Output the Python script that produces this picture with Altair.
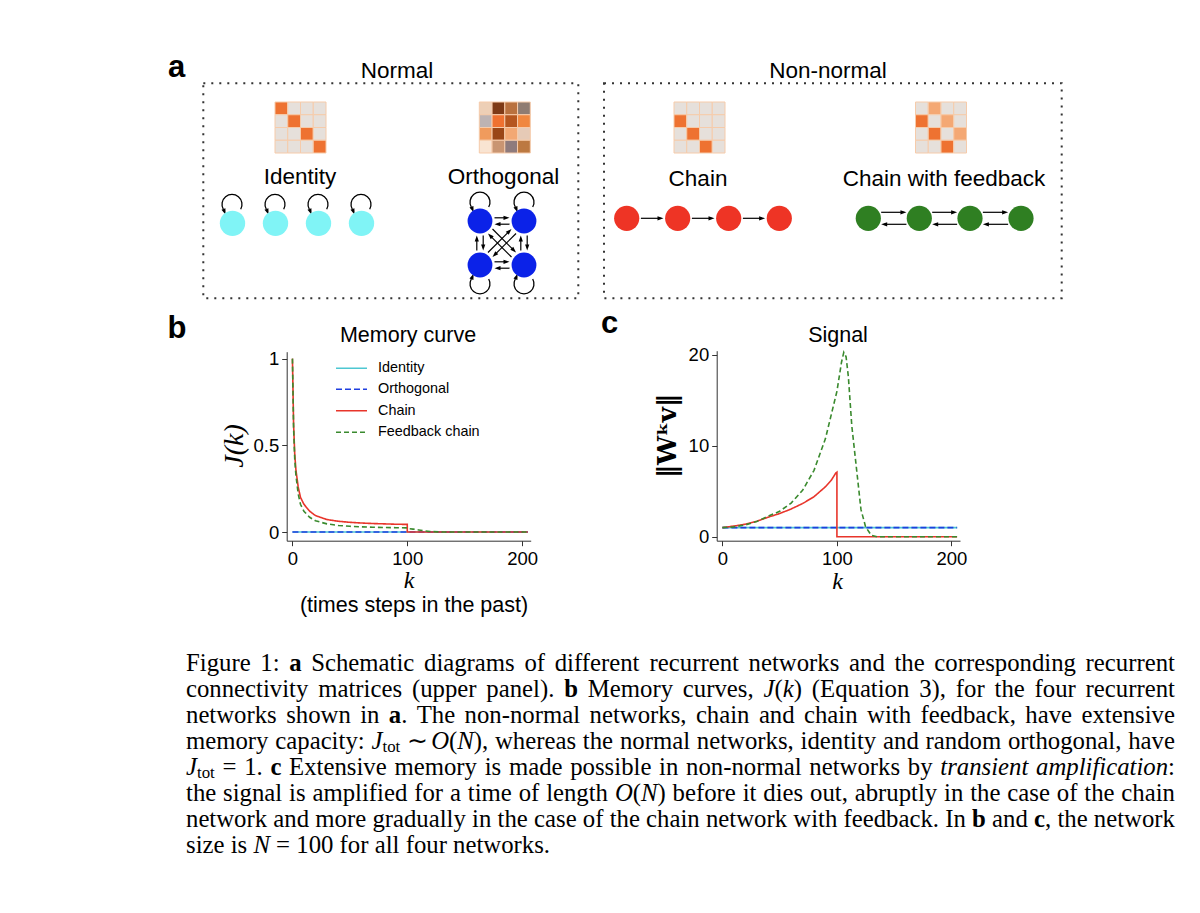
import math
import re
import altair as alt
import pandas as pd

# ------------------------------------------------------------------ data
series_names = ["Identity", "Orthogonal", "Chain", "Feedback chain"]
series_colors = ["#4ec7d2", "#1f3fe0", "#e8352b", "#3a8a2e"]
series_dash = [[1, 0], [6, 3], [1, 0], [5, 3]]

# panel b : memory curve J(k)
b_identity_k = [0, 205]
b_identity_J = [0.0, 0.0]
b_orth_k = [0, 205]
b_orth_J = [0.0, 0.0]
b_chain_k = [0, 1, 2, 3, 5, 7, 10, 15, 20, 30, 40, 50, 60, 70, 80, 90, 99, 100, 100, 205]
b_chain_J = [1.0, 0.62, 0.45, 0.36, 0.26, 0.2, 0.16, 0.12, 0.095, 0.072, 0.062, 0.056,
             0.052, 0.049, 0.047, 0.045, 0.044, 0.044, 0.0, 0.0]
b_fb_k = [0, 1, 2, 3, 5, 7, 10, 15, 20, 30, 40, 50, 60, 70, 80, 90, 100, 101, 105, 110,
          115, 120, 130, 205]
b_fb_J = [1.0, 0.6, 0.42, 0.33, 0.22, 0.16, 0.12, 0.085, 0.065, 0.047, 0.038, 0.033, 0.03,
          0.028, 0.026, 0.025, 0.024, 0.02, 0.017, 0.012, 0.007, 0.003, 0.0, 0.0]

# panel c : signal ||W^k v||
c_identity_k = [0, 205]
c_identity_v = [1.0, 1.0]
c_orth_k = [0, 205]
c_orth_v = [1.0, 1.0]
c_chain_k = [0, 10, 20, 30, 40, 50, 60, 70, 80, 90, 95, 99, 100, 100, 205]
c_chain_v = [1.0, 1.17, 1.38, 1.7, 2.15, 2.55, 3.05, 3.65, 4.4, 5.5, 6.2, 7.0, 7.1, 0.0, 0.0]
c_fb_k = [0, 10, 20, 30, 39, 50, 60, 70, 80, 90, 100, 104, 106, 108, 110, 113, 117, 121,
          125, 130, 135, 205]
c_fb_v = [1.0, 1.08, 1.3, 1.68, 2.2, 2.8, 3.7, 5.1, 7.3, 10.8, 16.0, 19.2, 20.3, 19.8, 17.6,
          12.2, 7.6, 3.0, 1.1, 0.15, 0.0, 0.0]

b_ticks_x = [0, 100, 200]
b_ticks_y = [0, 0.5, 1]
c_ticks_x = [0, 100, 200]
c_ticks_y = [0, 10, 20]

# connectivity matrices (cell colours)
BG, OR, LO = "#e6e0db", "#ee7231", "#f4a874"
mat_identity = [[OR, BG, BG, BG], [BG, OR, BG, BG], [BG, BG, OR, BG], [BG, BG, BG, OR]]
mat_orth = [["#edcfb6", "#7e3a16", "#b9713f", "#8f7c72"],
            ["#bdb3b3", "#ef7130", "#b5561f", "#f0873f"],
            ["#f09b5d", "#9a4617", "#f2a874", "#e6cab6"],
            ["#f9e4d2", "#c99572", "#8e7b7d", "#bc7941"]]
mat_chain = [[BG, BG, BG, BG], [OR, BG, BG, BG], [BG, OR, BG, BG], [BG, BG, OR, BG]]
mat_fb = [[BG, LO, BG, BG], [OR, BG, LO, BG], [BG, OR, BG, LO], [BG, BG, OR, BG]]

network_names = ["Identity", "Orthogonal", "Chain", "Chain with feedback"]
node_colors = ["#80f4f6", "#0b22e8", "#ee3425", "#2f7f22"]

caption_lines = [
    "Figure 1: **a** Schematic diagrams of different recurrent networks and the corresponding recurrent",
    "connectivity matrices (upper panel). **b** Memory curves, *J*(*k*) (Equation 3), for the four recurrent",
    "networks shown in **a**. The non-normal networks, chain and chain with feedback, have extensive",
    "memory capacity: *J*_{tot} \u223c *O*(*N*), whereas the normal networks, identity and random orthogonal, have",
    "*J*_{tot} = 1. **c** Extensive memory is made possible in non-normal networks by *transient amplification*:",
    "the signal is amplified for a time of length *O*(*N*) before it dies out, abruptly in the case of the chain",
    "network and more gradually in the case of the chain network with feedback. In **b** and **c**, the network",
    "size is *N* = 100 for all four networks.",
]

# ------------------------------------------------------------------ layout
W, H = 1184, 897
OFF = 8
SANS = "Liberation Sans"
SERIF = "Liberation Serif"

XS = alt.Scale(domain=[OFF, OFF + W], range=[0, W], nice=False, zero=False)
YS = alt.Scale(domain=[OFF, OFF + H], range=[0, H], nice=False, zero=False)


def X(f):
    return alt.X(f"{f}:Q", scale=XS, axis=None)


def Y(f):
    return alt.Y(f"{f}:Q", scale=YS, axis=None)


color_enc = alt.Color("series:N", scale=alt.Scale(domain=series_names, range=series_colors), legend=None)
dash_enc = alt.StrokeDash("series:N", scale=alt.Scale(domain=series_names, range=series_dash), legend=None)

# ---- dotted boxes
boxes = pd.DataFrame({"x": [203.3, 604], "x2": [578.3, 1061.7], "y": [83.3, 83.3], "y2": [298.3, 298.3]})
box_layer = alt.Chart(boxes).mark_rect(fillOpacity=0, stroke="#333", strokeWidth=2,
                                       strokeDash=[2, 6]).encode(
    x=X("x"), x2="x2:Q", y=Y("y"), y2="y2:Q")

# ---- matrices
mat_origin = [(275.0, 102.0), (479.3, 102.0), (674.0, 102.0), (915.5, 102.0)]
MSIZE = 51.0
cells = []
for (ox, oy), mat in zip(mat_origin, [mat_identity, mat_orth, mat_chain, mat_fb]):
    c = MSIZE / 4
    for r in range(4):
        for col in range(4):
            cells.append({"x": ox + col * c, "x2": ox + (col + 1) * c, "y": oy + r * c,
                          "y2": oy + (r + 1) * c, "fill": mat[r][col]})
cells = pd.DataFrame(cells)
cell_layer = alt.Chart(cells).mark_rect(stroke="#f6cbaa", strokeWidth=1).encode(
    x=X("x"), x2="x2:Q", y=Y("y"), y2="y2:Q", fill=alt.Fill("fill:N", scale=None))

# ---- nodes
node_pos = {
    "Identity": ([232.5, 275.5, 318.5, 361.5], [223.3] * 4, 14.3),
    "Orthogonal": ([480, 524, 480, 524], [221, 221, 265, 265], 14.0),
    "Chain": ([626.7, 677.7, 728.7, 779.3], [218.3] * 4, 14.2),
    "Chain with feedback": ([868.3, 919.3, 970, 1021], [218.3] * 4, 14.2),
}
nodes = []
for name, colr in zip(network_names, node_colors):
    xs, ys, r = node_pos[name]
    for x, y in zip(xs, ys):
        nodes.append({"x": x, "y": y, "fill": colr, "s": math.pi * r * r})
nodes = pd.DataFrame(nodes)
node_layer = alt.Chart(nodes).mark_circle(opacity=1, strokeWidth=0).encode(
    x=X("x"), y=Y("y"), fill=alt.Fill("fill:N", scale=None), size=alt.Size("s:Q", scale=None))

# ---- arrows
shafts, heads = [], []
HEAD = 3.0


def arrow(x1, y1, x2, y2):
    dx, dy = x2 - x1, y2 - y1
    L = math.hypot(dx, dy)
    ux, uy = dx / L, dy / L
    shafts.append({"x": x1, "y": y1, "x2": x2 - ux * HEAD, "y2": y2 - uy * HEAD})
    heads.append({"x": x2 - ux * HEAD, "y": y2 - uy * HEAD,
                  "a": math.degrees(math.atan2(uy, ux)) % 360})


xs, ys, r = node_pos["Chain"]
for i in range(3):
    arrow(xs[i] + r, ys[i], xs[i + 1] - r, ys[i + 1])
xs, ys, r = node_pos["Chain with feedback"]
e = math.sqrt(r * r - 36)
for i in range(3):
    arrow(xs[i] + e, ys[i] - 6, xs[i + 1] - e, ys[i + 1] - 6)
    arrow(xs[i + 1] - e, ys[i + 1] + 6, xs[i] + e, ys[i] + 6)
xs, ys, r = node_pos["Orthogonal"]
pairs = [(0, 1), (2, 3), (0, 2), (1, 3), (0, 3), (1, 2)]
for a, b in pairs:
    dx, dy = xs[b] - xs[a], ys[b] - ys[a]
    L = math.hypot(dx, dy)
    ux, uy = dx / L, dy / L
    nx, ny = -uy, ux
    rr = r + 0.5
    o = 3.2
    arrow(xs[a] + ux * rr - nx * o, ys[a] + uy * rr - ny * o, xs[b] - ux * rr - nx * o, ys[b] - uy * rr - ny * o)
    arrow(xs[b] - ux * rr + nx * o, ys[b] - uy * rr + ny * o, xs[a] + ux * rr + nx * o, ys[a] + uy * rr + ny * o)

# ---- self loops
LOOP_UP = "M -0.87 0.5 A 1 1 0 1 1 0.87 0.5"
LOOP_DOWN = "M -0.87 -0.5 A 1 1 0 1 0 0.87 -0.5"
ARROW = "M 1 0 L -1 -0.7 L -1 0.7 Z"
loops_up, loops_down = [], []
xs, ys, r = node_pos["Identity"]
for x, y in zip(xs, ys):
    loops_up.append({"x": x - 0.5, "y": y - 19})
xs, ys, r = node_pos["Orthogonal"]
for x, y in zip(xs[:2], ys[:2]):
    loops_up.append({"x": x, "y": y - 19})
for x, y in zip(xs[2:], ys[2:]):
    loops_down.append({"x": x, "y": y + 19})
for lp in loops_up:
    heads.append({"x": lp["x"] - 8.7 + 1.2, "y": lp["y"] + 5 + 2.5, "a": 70})
for lp in loops_down:
    heads.append({"x": lp["x"] - 8.7 + 1.2, "y": lp["y"] - 5 - 2.5, "a": 290})

shafts = pd.DataFrame(shafts)
heads = pd.DataFrame(heads)
shaft_layer = alt.Chart(shafts).mark_rule(color="black", strokeWidth=1.2).encode(
    x=X("x"), y=Y("y"), x2="x2:Q", y2="y2:Q")
head_layer = alt.Chart(heads).mark_point(shape=ARROW, filled=True, color="black", opacity=1,
                                         size=36, strokeWidth=0).encode(
    x=X("x"), y=Y("y"), angle=alt.Angle("a:Q", scale=None))
loop_up_layer = alt.Chart(pd.DataFrame(loops_up)).mark_point(
    shape=LOOP_UP, filled=False, color="black", opacity=1, size=400, strokeWidth=1.3).encode(
    x=X("x"), y=Y("y"))
loop_down_layer = alt.Chart(pd.DataFrame(loops_down)).mark_point(
    shape=LOOP_DOWN, filled=False, color="black", opacity=1, size=400, strokeWidth=1.3).encode(
    x=X("x"), y=Y("y"))

# ---- labels
sans_labels = pd.DataFrame([
    {"x": 397, "y": 78, "t": "Normal", "fs": 22.5},
    {"x": 828, "y": 78, "t": "Non-normal", "fs": 22.5},
    {"x": 300, "y": 184, "t": network_names[0], "fs": 22.5},
    {"x": 503.5, "y": 184, "t": network_names[1], "fs": 22.5},
    {"x": 698, "y": 185.5, "t": network_names[2], "fs": 22.5},
    {"x": 944, "y": 185.5, "t": network_names[3], "fs": 22.5},
    {"x": 408, "y": 342, "t": "Memory curve", "fs": 21.5},
    {"x": 838, "y": 342, "t": "Signal", "fs": 21.5},
    {"x": 414, "y": 612, "t": "(times steps in the past)", "fs": 21.5},
])
sans_layer = alt.Chart(sans_labels).mark_text(font=SANS, align="center", baseline="alphabetic",
                                              color="black").encode(
    x=X("x"), y=Y("y"), text="t:N", size=alt.Size("fs:Q", scale=None))
bold_labels = pd.DataFrame([
    {"x": 176.5, "y": 76.7, "t": "a"},
    {"x": 177, "y": 338, "t": "b"},
    {"x": 609.5, "y": 333, "t": "c"},
])
bold_layer = alt.Chart(bold_labels).mark_text(font=SANS, fontWeight="bold", fontSize=31,
                                              align="center", baseline="alphabetic",
                                              color="black").encode(
    x=X("x"), y=Y("y"), text="t:N")
ital_labels = pd.DataFrame([
    {"x": 409, "y": 588, "t": "k"},
    {"x": 837.5, "y": 589, "t": "k"},
])
ital_layer = alt.Chart(ital_labels).mark_text(font=SERIF, fontStyle="italic", fontSize=24,
                                              align="center", baseline="alphabetic",
                                              color="black").encode(
    x=X("x"), y=Y("y"), text="t:N")
ytitle_b = alt.Chart(pd.DataFrame([{"x": 235, "y": 446, "t": "J(k)"}])).mark_text(
    font=SERIF, fontStyle="italic", fontSize=28, angle=270, align="center", baseline="middle",
    color="black").encode(x=X("x"), y=Y("y"), text="t:N")
ytitle_c = alt.Chart(pd.DataFrame([{"x": 668, "y": 436, "t": "\u2016W\u1d4fv\u2016"}])).mark_text(
    font="DejaVu Serif", fontWeight="bold", fontSize=26, angle=270, align="center",
    baseline="middle", color="black").encode(x=X("x"), y=Y("y"), text="t:N")

# ---- legend of panel b
legend_df = pd.DataFrame({"series": series_names, "x1": [336.0] * 4, "x2": [367.0] * 4,
                          "y": [368.3, 389.3, 410.7, 432.3], "lx": [378.0] * 4})
legend_lines = alt.Chart(legend_df).mark_rule(strokeWidth=1.6).encode(
    x=X("x1"), x2="x2:Q", y=Y("y"), color=color_enc, strokeDash=dash_enc)
legend_text = alt.Chart(legend_df).mark_text(font=SANS, fontSize=14.4, align="left",
                                             baseline="middle", color="black").encode(
    x=X("lx"), y=Y("y"), text="series:N")

# ---- caption (justified, word by word)
R_W = {' ': 250, '!': 333, '(': 333, ')': 333, ',': 250, '-': 333, '.': 250, ':': 278, ';': 278,
       '=': 564, '\u223c': 700}
for d in "0123456789":
    R_W[d] = 500
R_W.update(dict(zip("ABCDEFGHIJKLMNOPQRSTUVWXYZ",
                    [722, 667, 667, 722, 611, 556, 722, 722, 333, 389, 722, 611, 889, 722, 722,
                     556, 722, 667, 556, 611, 722, 722, 944, 722, 722, 611])))
R_W.update(dict(zip("abcdefghijklmnopqrstuvwxyz",
                    [444, 500, 444, 500, 444, 333, 500, 500, 278, 278, 500, 278, 778, 500, 500,
                     500, 500, 333, 389, 278, 500, 500, 722, 500, 500, 444])))
I_W = dict(R_W)
I_W.update(dict(zip("abcdefghijklmnopqrstuvwxyz",
                    [500, 500, 444, 500, 444, 278, 500, 500, 278, 278, 444, 278, 722, 500, 500,
                     500, 500, 389, 389, 278, 500, 444, 667, 444, 444, 389])))
I_W.update({'J': 444, 'N': 667, 'O': 722})
B_W = dict(R_W)
B_W.update({'a': 500, 'b': 556, 'c': 444})
TABLES = {"R": R_W, "B": B_W, "I": I_W, "S": R_W}
SCALE = {"R": 1.0, "B": 1.0, "I": 1.0, "S": 0.68}


def parse(line):
    pat = re.compile(r"\*\*(.+?)\*\*|\*(.+?)\*|_\{(.+?)\}")
    out, pos = [], 0
    for m in pat.finditer(line):
        if m.start() > pos:
            out.append((line[pos:m.start()], "R"))
        if m.group(1) is not None:
            out.append((m.group(1), "B"))
        elif m.group(2) is not None:
            out.append((m.group(2), "I"))
        else:
            out.append((m.group(3), "S"))
        pos = m.end()
    if pos < len(line):
        out.append((line[pos:], "R"))
    return out


def words_of(pieces):
    words, cur = [], []
    for text, st in pieces:
        buf = ""
        for ch in text:
            if ch == " ":
                if buf:
                    cur.append((buf, st))
                    buf = ""
                if cur:
                    words.append(cur)
                    cur = []
            else:
                buf += ch
        if buf:
            cur.append((buf, st))
    if cur:
        words.append(cur)
    return words


def piece_w(text, st, s):
    tab = TABLES[st]
    return sum(tab.get(ch, 500) for ch in text) / 1000.0 * s * SCALE[st]


def word_w(word, s):
    return sum(piece_w(t, st, s) for t, st in word)


CAP_X0, CAP_X1 = 186.0, 1175.0
CAP_Y0, CAP_DY = 671.0, 26.0
avail = CAP_X1 - CAP_X0
all_words = [words_of(parse(l)) for l in caption_lines]
nat = [sum(word_w(w, 1) for w in ws) + 0.25 * (len(ws) - 1) for ws in all_words[:-1]]
cap_size = min(25.5, avail / max(nat))

cap_rows = []
for li, ws in enumerate(all_words):
    y = CAP_Y0 + li * CAP_DY
    widths = [word_w(w, cap_size) for w in ws]
    if li < len(all_words) - 1:
        gap = (avail - sum(widths)) / (len(ws) - 1)
    else:
        gap = 0.25 * cap_size
    x = CAP_X0
    for w, ww in zip(ws, widths):
        px = x
        for t, st in w:
            cap_rows.append({"x": px, "y": y + (0.12 * cap_size if st == "S" else 0.0), "t": t,
                             "st": st, "fs": cap_size * SCALE[st]})
            px += piece_w(t, st, cap_size)
        x += ww + gap
cap_df = pd.DataFrame(cap_rows)


def cap_layer(st, **kw):
    return alt.Chart(cap_df).transform_filter(alt.datum.st == st).mark_text(
        font=SERIF, align="left", baseline="alphabetic", color="black", **kw).encode(
        x=X("x"), y=Y("y"), text="t:N", size=alt.Size("fs:Q", scale=None))


caption = alt.layer(cap_layer("R"), cap_layer("S"), cap_layer("B", fontWeight="bold"),
                    cap_layer("I", fontStyle="italic"))

canvas = alt.layer(box_layer, cell_layer, loop_up_layer, loop_down_layer, shaft_layer, head_layer,
                   node_layer, sans_layer, bold_layer, ital_layer, ytitle_b, ytitle_c,
                   legend_lines, legend_text, caption)

# ------------------------------------------------------------------ panels b and c
AX = dict(grid=False, domainColor="#333", tickColor="#333", tickSize=5, labelFont=SANS,
          labelFontSize=18.5, labelColor="black", labelFlush=False, labelOverlap=False,
          domainWidth=1, tickWidth=1)


def panel(datasets, xdom, xrange, ydom, yrange, xticks, yticks, yfmt):
    xs_ = alt.Scale(domain=xdom, range=[v - OFF for v in xrange], nice=False, zero=False)
    ys_ = alt.Scale(domain=ydom, range=[v - OFF for v in yrange], nice=False, zero=False)
    xax = alt.Axis(orient="bottom", offset=(yrange[0] - OFF) - H, values=xticks, labelPadding=4, **AX)
    yax = alt.Axis(orient="left", offset=-(xrange[0] - OFF), values=yticks, format=yfmt,
                   labelPadding=3, **AX)
    layers = []
    for name, ks, vs in datasets:
        df = pd.DataFrame({"k": ks, "v": vs, "series": name, "i": list(range(len(ks)))})
        layers.append(alt.Chart(df).mark_line(strokeWidth=1.6).encode(
            x=alt.X("k:Q", scale=xs_, axis=xax, title=None),
            y=alt.Y("v:Q", scale=ys_, axis=yax, title=None),
            color=color_enc, strokeDash=dash_enc, order="i:Q"))
    return alt.layer(*layers)


panel_b = panel([(series_names[0], b_identity_k, b_identity_J),
                 (series_names[1], b_orth_k, b_orth_J),
                 (series_names[2], b_chain_k, b_chain_J),
                 (series_names[3], b_fb_k, b_fb_J)],
                [-5, 207.5], [286.7, 530.7], [-0.05, 1.04], [540.7, 351.7],
                b_ticks_x, b_ticks_y, "~g")
panel_c = panel([(series_names[0], c_identity_k, c_identity_v),
                 (series_names[1], c_orth_k, c_orth_v),
                 (series_names[2], c_chain_k, c_chain_v),
                 (series_names[3], c_fb_k, c_fb_v)],
                [-5, 207.5], [716.7, 960.0], [-0.44, 20.47], [540.7, 350.7],
                c_ticks_x, c_ticks_y, "~g")

chart = alt.layer(canvas, panel_b, panel_c).resolve_scale(
    x="independent", y="independent").properties(
    width=W, height=H, padding=0, autosize=alt.AutoSizeParams(type="none"),
    background="white").configure_view(strokeWidth=0)

chart.save("out.html", embed_options={"renderer": "svg", "actions": False})
